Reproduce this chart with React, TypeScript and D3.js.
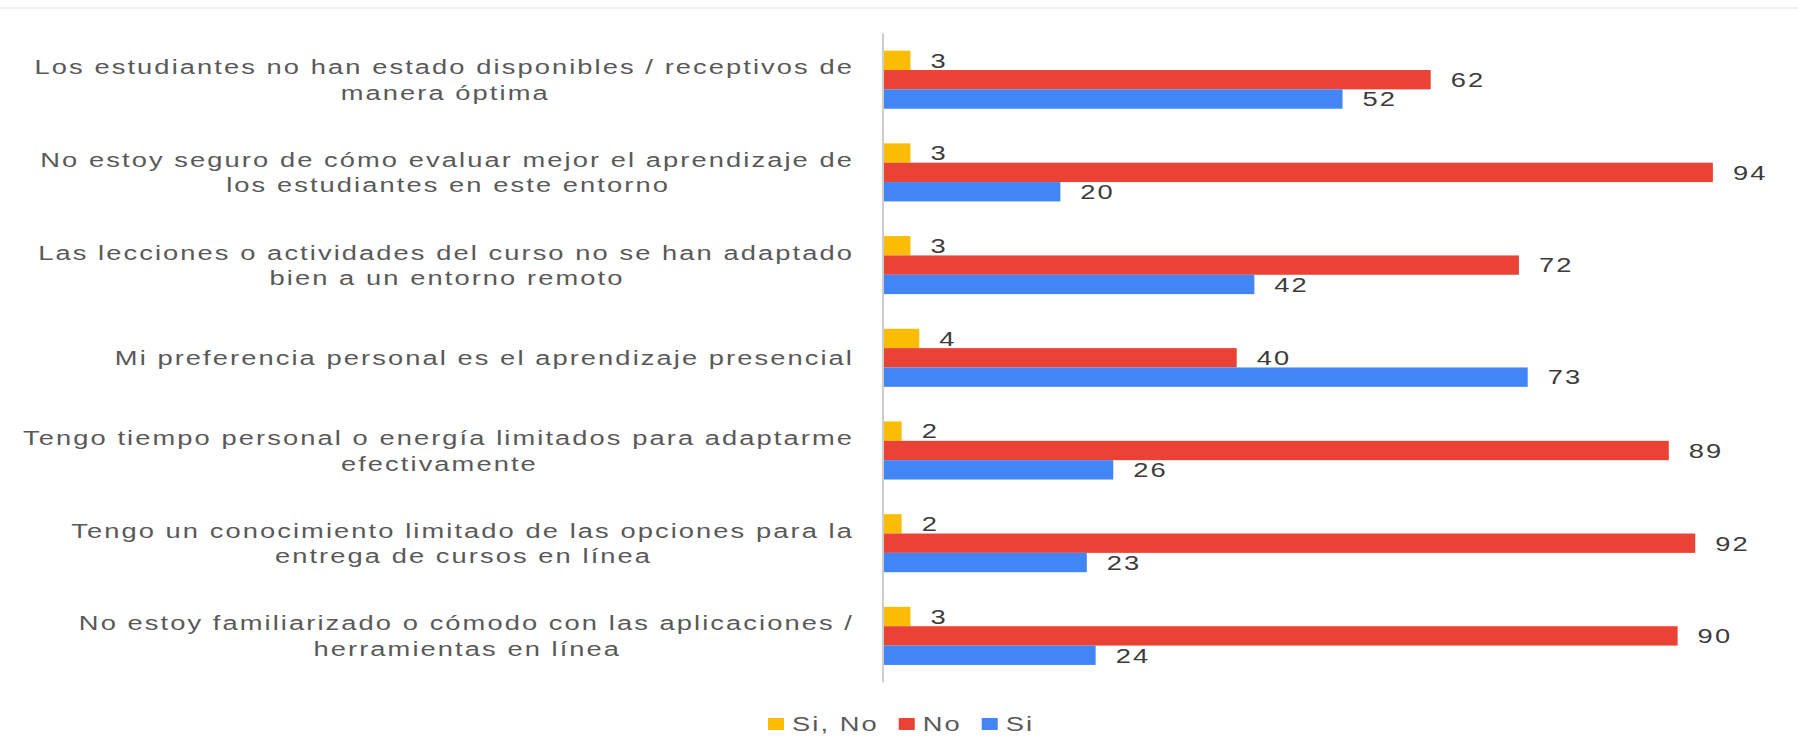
import React from "react";
import * as d3 from "d3";

const categories = [
  "Los estudiantes no han estado disponibles / receptivos de\nmanera óptima",
  "No estoy seguro de cómo evaluar mejor el aprendizaje de\nlos estudiantes en este entorno",
  "Las lecciones o actividades del curso no se han adaptado\nbien a un entorno remoto",
  "Mi preferencia personal es el aprendizaje presencial",
  "Tengo tiempo personal o energía limitados para adaptarme\nefectivamente",
  "Tengo un conocimiento limitado de las opciones para la\nentrega de cursos en línea",
  "No estoy familiarizado o cómodo con las aplicaciones /\nherramientas en línea",
];
const seriesNames = ["Si, No", "No", "Si"];
const siNoValues = [3, 3, 3, 4, 2, 2, 3];
const noValues = [62, 94, 72, 40, 89, 92, 90];
const siValues = [52, 20, 42, 73, 26, 23, 24];
const seriesColors = ["#FBBC04", "#EA4335", "#4285F4"];

const W = 1798;
const H = 751;
const FONT = "'Liberation Sans', Arial, sans-serif";
const FS = 21;
const LS = 1.6;
const SX = 1.3;

let ctx: CanvasRenderingContext2D | null = null;
function measure(text: string): number {
  if (!ctx) {
    const c = document.createElement("canvas");
    ctx = c.getContext("2d");
  }
  if (!ctx) return text.length * 12;
  ctx.font = `${FS}px 'Liberation Sans'`;
  return (ctx.measureText(text).width + LS * text.length) * SX;
}

function SText(props: {
  x: number;
  y: number;
  anchor?: string;
  fill: string;
  children: string;
}) {
  return (
    <text
      transform={`translate(${props.x},${props.y}) scale(${SX},1)`}
      textAnchor={props.anchor || "start"}
      dominantBaseline="central"
      fontFamily={FONT}
      fontSize={FS}
      letterSpacing={LS}
      fill={props.fill}
    >
      {props.children}
    </text>
  );
}

export default function App() {
  const series = [siNoValues, noValues, siValues];
  const x = d3.scaleLinear().domain([0, 100]).range([884, 1765.8]);
  const y = d3
    .scaleBand<string>()
    .domain(categories)
    .range([33.35, 682.25])
    .paddingInner(0.374)
    .paddingOuter(0.187);
  const sub = d3
    .scaleBand<string>()
    .domain(seriesNames)
    .range([0, y.bandwidth()]);
  const [r0, r1] = y.range();
  const labelRight = 854;
  const lineGap = 25.5;

  const legendStart = 768;
  let lx = legendStart;
  const legendItems = seriesNames.map((name, i) => {
    const item = { name, color: seriesColors[i], x: lx };
    lx += 24 + measure(name) + 22 - LS * SX;
    return item;
  });

  return (
    <svg
      width={W}
      height={H}
      viewBox={`0 0 ${W} ${H}`}
      style={{ position: "absolute", left: 0, top: 0, background: "#fff" }}
    >
      <line x1={0} x2={W} y1={8} y2={8} stroke="#e0e0e0" strokeWidth={1.2} />
      {categories.map((cat, ci) => {
        const g0 = y(cat) as number;
        const cy = g0 + y.bandwidth() / 2;
        const lines = cat.split("\n");
        const w1 = measure(lines[0]) - LS * SX;
        return (
          <g key={cat}>
            {lines.map((ln, li) => {
              const ly = cy + (li - (lines.length - 1) / 2) * lineGap;
              if (li === 0)
                return (
                  <SText key={li} x={labelRight} y={ly} anchor="end" fill="#595959">
                    {ln}
                  </SText>
                );
              return (
                <SText key={li} x={labelRight - w1 / 2} y={ly} anchor="middle" fill="#595959">
                  {ln}
                </SText>
              );
            })}
            {series.map((vals, si) => {
              const by = g0 + (sub(seriesNames[si]) as number);
              const v = vals[ci];
              return (
                <g key={si}>
                  <rect
                    x={x(0)}
                    y={by}
                    width={x(v) - x(0)}
                    height={sub.bandwidth()}
                    fill={seriesColors[si]}
                  />
                  <SText x={x(v) + 20} y={by + sub.bandwidth() / 2} fill="#3c3c3c">
                    {String(v)}
                  </SText>
                </g>
              );
            })}
          </g>
        );
      })}
      <line x1={883} x2={883} y1={r0} y2={r1} stroke="#cccccc" strokeWidth={2} />
      {legendItems.map((it) => (
        <g key={it.name}>
          <rect x={it.x} y={718} width={16} height={12} fill={it.color} />
          <SText x={it.x + 24} y={724} fill="#595959">
            {it.name}
          </SText>
        </g>
      ))}
    </svg>
  );
}
